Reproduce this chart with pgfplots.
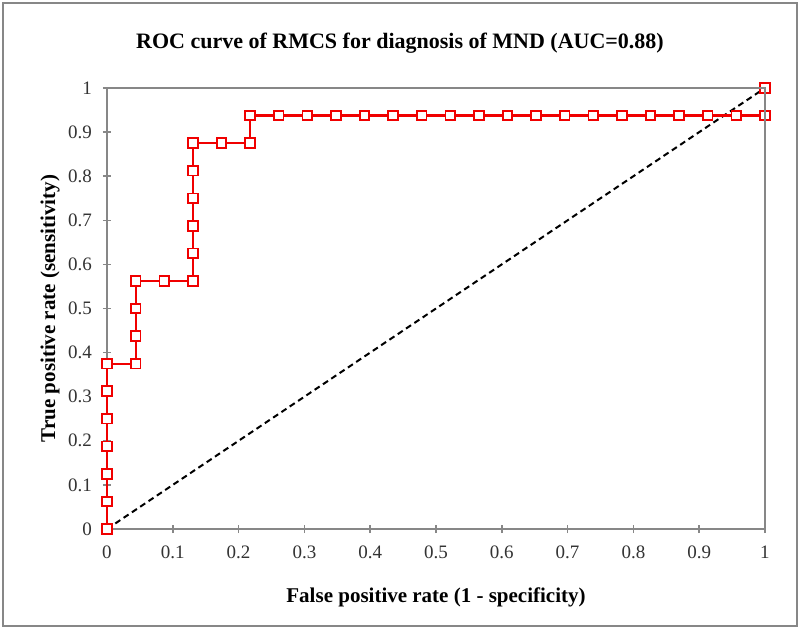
\documentclass[border=0pt]{standalone}
\usepackage{pgfplots}
\pgfplotsset{compat=1.18}
\usepackage{fontspec}
\setmainfont{Liberation Serif}
\definecolor{axgray}{RGB}{135,135,135}
\definecolor{rocred}{RGB}{240,0,0}
\begin{document}
\begin{tikzpicture}[x=1pt,y=1pt]
% page and outer frame (1px = 0.5pt; axis origin at pixel (107,529))
\fill[white] (-53.5,-50) rectangle (346.5,264.5);
\draw[axgray, line width=0.8pt] (-52,-48.5) rectangle (345,263);
\node[font=\bfseries\fontsize{11}{13}\selectfont, anchor=center] at (146.5,243) {ROC curve of RMCS for diagnosis of MND (AUC=0.88)};
\begin{axis}[
  at={(0,0)}, anchor=origin,
  scale only axis,
  width=329pt, height=220.5pt,
  xmin=0, xmax=1, ymin=0, ymax=1,
  xtick={0,0.1,...,1.0001}, ytick={0,0.1,...,1.0001},
  xticklabels={0,0.1,0.2,0.3,0.4,0.5,0.6,0.7,0.8,0.9,1},
  yticklabels={0,0.1,0.2,0.3,0.4,0.5,0.6,0.7,0.8,0.9,1},
  xtick pos=left, ytick pos=left,
  tick align=center,
  major tick length=4pt,
  axis line style={axgray, line width=0.75pt},
  every tick/.style={axgray, line width=0.75pt},
  tick label style={font=\fontsize{9.5}{11}\selectfont, text=black!80},
  xticklabel style={yshift=-3pt},
  yticklabel style={xshift=-2pt},
  /pgf/number format/assume math mode=true,
  xlabel={False positive rate (1 - specificity)},
  ylabel={True positive rate (sensitivity)},
  every axis x label/.style={at={(axis description cs:0.5,0)}, anchor=center, yshift=-34pt, font=\bfseries\fontsize{10.5}{12}\selectfont},
  every axis y label/.style={at={(axis description cs:0,0.5)}, rotate=90, anchor=center, yshift=28.5pt, font=\bfseries\fontsize{10.5}{12}\selectfont},
  clip=false,
]
\addplot[black, line width=1pt, dash pattern=on 3pt off 2pt] coordinates {(0,0) (1,1)};
\addplot[rocred, line width=1.1pt, mark=square*, mark size=2.4pt,
  mark options={fill=white, draw=rocred, line width=0.9pt, solid}] coordinates {
(0,0) (0,0.0625) (0,0.125) (0,0.1875) (0,0.25) (0,0.3125) (0,0.375)
(0.0435,0.375) (0.0435,0.4375) (0.0435,0.5) (0.0435,0.5625)
(0.0870,0.5625) (0.1304,0.5625) (0.1304,0.625) (0.1304,0.6875) (0.1304,0.75) (0.1304,0.8125) (0.1304,0.875)
(0.1739,0.875) (0.2174,0.875) (0.2174,0.9375)
(0.2609,0.9375) (0.3043,0.9375) (0.3478,0.9375) (0.3913,0.9375) (0.4348,0.9375) (0.4783,0.9375)
(0.5217,0.9375) (0.5652,0.9375) (0.6087,0.9375) (0.6522,0.9375) (0.6957,0.9375) (0.7391,0.9375)
(0.7826,0.9375) (0.8261,0.9375) (0.8696,0.9375) (0.9130,0.9375) (0.9565,0.9375) (1,0.9375) (1,1)
};
\end{axis}
% top and right plot-area border
\draw[axgray, line width=0.75pt] (0,220.5) -- (329,220.5) -- (329,0);
\end{tikzpicture}
\end{document}
